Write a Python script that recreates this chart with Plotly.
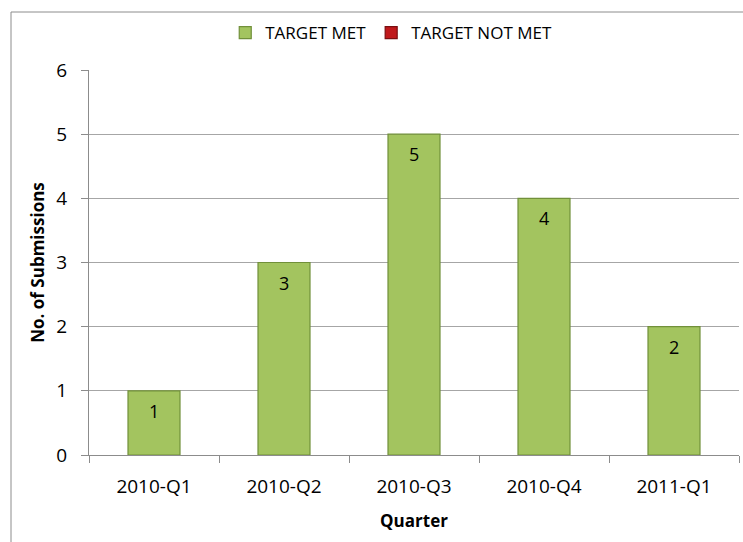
import plotly.graph_objects as go

quarters = ["2010-Q1", "2010-Q2", "2010-Q3", "2010-Q4", "2011-Q1"]
target_met = [1, 3, 5, 4, 2]
target_not_met = [None, None, None, None, None]
y_ticks = [0, 1, 2, 3, 4, 5, 6]

W, H = 743, 542
L, R, T, B = 89, 4, 70, 87
pw, ph = W - L - R, H - T - B

def px_x(p):
    return (p - L) / pw

def px_y(p):
    return (H - B - p) / ph

fig = go.Figure()
fig.add_trace(go.Bar(
    x=quarters, y=target_met, name="TARGET MET", width=0.4,
    marker=dict(color="#A3C45F", line=dict(color="#71903A", width=1.2)),
))
fig.add_trace(go.Bar(
    x=quarters, y=target_not_met, name="TARGET NOT MET", width=0.4,
    marker=dict(color="#C0181B", line=dict(color="#7A0E10", width=1.2)),
))

for q, v in zip(quarters, target_met):
    fig.add_annotation(x=q, y=v, text=str(v), showarrow=False, yshift=-20,
                       font=dict(family="Open Sans", size=18, color="#000000"))

fig.add_shape(type="rect", xref="paper", yref="paper",
              x0=px_x(11), x1=px_x(760), y0=px_y(560), y1=px_y(12),
              line=dict(color="#8C8C8C", width=1), fillcolor="rgba(0,0,0,0)",
              layer="below")

fig.update_layout(
    width=W, height=H,
    margin=dict(l=L, r=R, t=T, b=B, autoexpand=False),
    paper_bgcolor="white", plot_bgcolor="white",
    barmode="overlay",
    font=dict(family="Open Sans", size=19, color="#000000"),
    showlegend=True,
    legend=dict(orientation="h", x=0.465, xanchor="center", y=px_y(33), yanchor="middle",
                font=dict(size=17), itemwidth=30, traceorder="normal"),
    xaxis=dict(
        title=dict(text="<b>Quarter</b>", font=dict(size=17), standoff=17),
        type="category", tickson="boundaries", ticks="outside", ticklen=7,
        tickcolor="#8C8C8C", showline=True, linecolor="#8C8C8C", linewidth=1,
        showgrid=False, zeroline=False, ticklabelstandoff=14, automargin=False,
    ),
    yaxis=dict(
        title=dict(text="<b>No. of Submissions</b>", font=dict(size=17), standoff=7),
        range=[0, 6], tickvals=y_ticks, ticks="outside", ticklen=7,
        tickcolor="#8C8C8C", showline=True, linecolor="#8C8C8C", linewidth=1,
        showgrid=True, gridcolor="#A6A6A6", gridwidth=1, zeroline=False,
        ticklabelstandoff=10, automargin=False,
    ),
)

fig.write_html("out.html", config={"displayModeBar": False},
               post_script="document.body.style.margin='0';document.body.style.padding='0';")
